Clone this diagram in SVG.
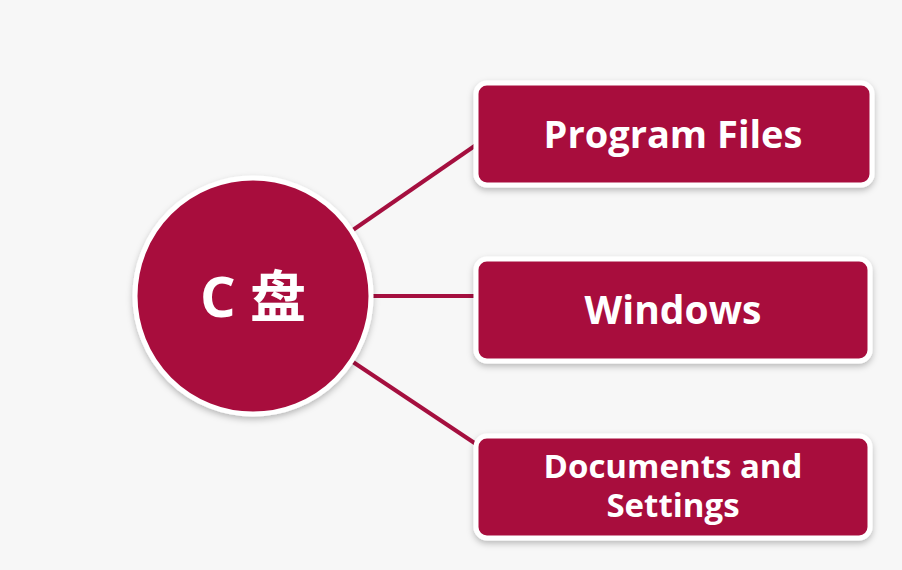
<svg xmlns="http://www.w3.org/2000/svg" width="902" height="570" viewBox="0 0 902 570">
<defs>
<filter id="sh" x="-10%" y="-10%" width="120%" height="130%">
<feDropShadow dx="0" dy="3" stdDeviation="3" flood-color="#000" flood-opacity="0.25"/>
</filter>
<style>
.node{fill:#a80f3e;stroke:#ffffff;stroke-width:5;filter:url(#sh)}
.lbl{fill:#ffffff;font-family:"Open Sans","Noto Sans","Noto Sans CJK SC",sans-serif;font-weight:bold;text-anchor:middle}
.conn{stroke:#a50f3f;stroke-width:4;fill:none}
</style>
</defs>
<rect width="902" height="570" fill="#f7f7f7"/>
<g id="connectors">
<line class="conn" x1="350" y1="232" x2="476" y2="145"/>
<line class="conn" x1="372" y1="296" x2="478" y2="296"/>
<line class="conn" x1="350" y1="360" x2="476" y2="444"/>
</g>
<g id="c-drive">
<circle class="node" cx="253" cy="296" r="118"/>
<text class="lbl" x="253" y="317" font-size="56">C 盘</text>
</g>
<g id="program-files">
<rect class="node" x="476" y="83" width="396" height="102" rx="11"/>
<text class="lbl" x="673" y="148" font-size="38">Program Files</text>
</g>
<g id="windows">
<rect class="node" x="476" y="259" width="394" height="102" rx="11"/>
<text class="lbl" x="673" y="324" font-size="39">Windows</text>
</g>
<g id="documents">
<rect class="node" x="476" y="436" width="394" height="102" rx="11"/>
<text class="lbl" x="673" y="478" font-size="33">Documents and</text>
<text class="lbl" x="673" y="517" font-size="33">Settings</text>
</g>
</svg>
